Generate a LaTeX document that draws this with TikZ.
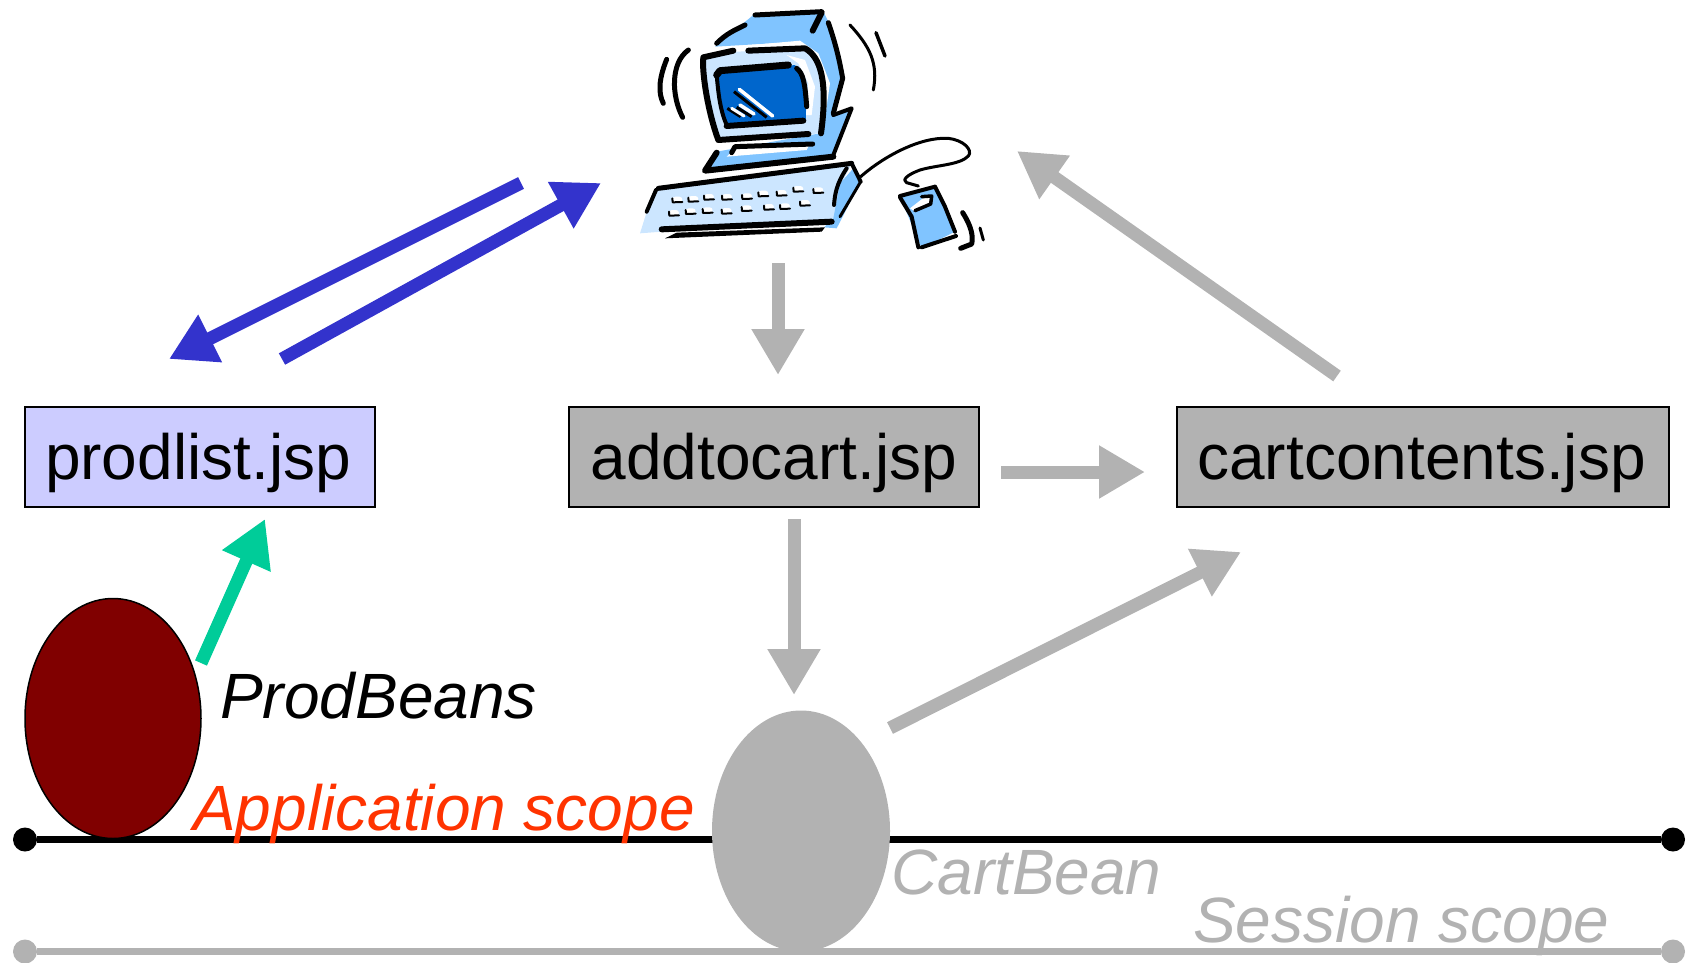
\documentclass[tikz,border=0pt]{standalone}
\usepackage{fontspec}
\setmainfont{Liberation Sans}
\usetikzlibrary{arrows.meta,shapes.geometric}
\definecolor{cgray}{HTML}{B2B2B2}
\definecolor{cblue}{HTML}{3333CC}
\definecolor{cgreen}{HTML}{00CC99}
\definecolor{clilac}{HTML}{CCCCFF}
\definecolor{cmaroon}{HTML}{800000}
\definecolor{cred}{HTML}{FF3300}
\definecolor{artmid}{HTML}{80C4FF}
\definecolor{artlight}{HTML}{CCE6FF}
\definecolor{artdark}{HTML}{0066CC}
\tikzset{
 filebox/.style={draw=black,line width=2pt,minimum height=100pt,inner sep=0pt,text height=47pt,text depth=3pt,font=\fontsize{64}{64}\selectfont},
 arrowline/.style={line width=13pt,-{Triangle[length=46pt,width=50pt]}},
 scopeline/.style={line width=6.5pt},
 enddot/.style={circle,minimum size=24pt,inner sep=0pt},
 bean/.style={ellipse,inner sep=0pt},
 caption/.style={anchor=base west,inner sep=0pt,font=\fontsize{64}{64}\selectfont\itshape},
 ink/.style={draw=black,line cap=round,line join=round,fill=none},
}
\begin{document}
\begin{tikzpicture}[x=1pt,y=-1pt]
\useasboundingbox (0,0) rectangle (1689,962);
% scope lines
\node[enddot,fill=cgray] (sl) at (25,951.5) {};
\node[enddot,fill=cgray] (sr) at (1673,951.5) {};
\draw[scopeline,cgray] (sl) -- (sr);
\node[enddot,fill=black] (al) at (25,839.5) {};
\node[enddot,fill=black] (ar) at (1673,839.5) {};
\draw[scopeline,black] (al) -- (ar);
% beans
\node[bean,fill=cmaroon,draw=black,line width=1.5pt,minimum width=176pt,minimum height=240pt] (prod) at (113,718.5) {};
\node[bean,fill=cgray,minimum width=178pt,minimum height=241pt] (cart) at (801,831) {};
% boxes
\node[filebox,fill=clilac,minimum width=350pt] (plist) at (200,457) {prodlist.jsp\hspace*{4pt}};
\node[filebox,fill=cgray,minimum width=410pt] (add) at (774,457) {addtocart.jsp};
\node[filebox,fill=cgray,minimum width=492pt] (cc) at (1423,457) {cartcontents.jsp\hspace*{3pt}};
% captions
\node[caption] (pb) at (220,718) {ProdBeans};
\node[caption,text=cred] (as) at (193,830) {Application scope};
\node[caption,text=cgray] (cb) at (891,894) {CartBean};
\node[caption,text=cgray] (ss) at (1193,942) {Session scope};
% arrow ends
\coordinate (b1s) at (521,183); \coordinate (b1e) at (169,359);
\coordinate (b2s) at (282,359); \coordinate (b2e) at (601,183);
\coordinate (g1s) at (778,263); \coordinate (g1e) at (778,375);
\coordinate (g2s) at (1001,472); \coordinate (g2e) at (1145,472);
\coordinate (g3s) at (1337,376); \coordinate (g3e) at (1017,151);
\coordinate (g4s) at (794,519); \coordinate (g4e) at (794,695);
\coordinate (g5s) at (890,728); \coordinate (g5e) at (1241,552);
\coordinate (gns) at (201,663); \coordinate (gne) at (265,519);
\draw[arrowline,cblue] (b1s) -- (b1e);
\draw[arrowline,cblue] (b2s) -- (b2e);
\draw[arrowline,cgray] (g1s) -- (g1e);
\draw[arrowline,cgray] (g2s) -- (g2e);
\draw[arrowline,cgray] (g3s) -- (g3e);
\draw[arrowline,cgray] (g4s) -- (g4e);
\draw[arrowline,cgray] (g5s) -- (g5e);
\draw[arrowline,cgreen] (gns) -- (gne);
% computer clip art (coordinates of a 3x crop)
\begin{scope}[shift={(620,0)},x=0.33333pt,y=-0.33333pt]
 % monitor body and base
 \fill[artmid] (285,140) -- (400,45) -- (610,35) -- (625,65) -- (670,230) -- (640,345) -- (695,330) -- (640,470) -- (260,510) -- (290,455) -- (600,400) -- (620,250) -- (590,160) -- (540,125) -- cycle;
 \fill[white] (320,470) -- (350,440) -- (570,430) -- (560,450) -- cycle;
 \fill[white] (285,145) -- (540,122) -- (595,160) -- (630,250) -- (608,400) -- (590,170) -- cycle;
 % bezel
 \fill[artlight] (250,175) -- (340,155) -- (560,150) -- (600,190) -- (615,260) -- (600,400) -- (300,425) -- (275,380) -- (250,230) -- cycle;
 \fill[white] (500,165) -- (555,180) -- (585,260) -- (575,345) -- (558,345) -- (565,250) -- (535,190) -- cycle;
 % screen
 \fill[artdark] (290,222) -- (525,195) -- (555,240) -- (558,358) -- (330,380) -- (305,345) -- cycle;
 \draw[black,line width=3pt] (342,275) -- (440,352);
 \draw[black,line width=3pt] (350,322) -- (395,350);
 \draw[black,line width=3pt] (322,325) -- (362,350);
 \draw[white,line width=3.5pt,line cap=round] (358,268) -- (458,348);
 \draw[white,line width=3.5pt,line cap=round] (360,315) -- (402,342);
 \draw[white,line width=3pt,line cap=round] (335,325) -- (372,348);
 % monitor outlines
 \draw[ink,line width=7pt] (290,225) -- (300,212) -- (505,195);
 \draw[ink,line width=5pt] (530,205) .. controls (550,220) and (555,250) .. (560,320);
 \draw[ink,line width=4pt] (290,225) .. controls (295,280) and (300,330) .. (320,375);
 \draw[ink,line width=6pt] (320,378) -- (550,362);
 \draw[ink,line width=6pt] (340,152) -- (250,172) .. controls (245,220) and (265,340) .. (295,420) -- (565,402);
 \draw[ink,line width=6pt] (385,152) -- (555,145) .. controls (600,170) and (625,240) .. (603,400);
 \draw[ink,line width=5pt] (290,130) .. controls (320,100) and (345,90) .. (375,75);
 \draw[ink,line width=5pt] (405,45) -- (605,35);
 \draw[ink,line width=6pt] (605,38) -- (578,92);
 \draw[ink,line width=5pt] (625,68) .. controls (650,140) and (660,190) .. (668,235) -- (640,340);
 \draw[ink,line width=4pt] (640,345) -- (695,325) -- (640,465);
 \draw[ink,line width=6pt] (640,470) -- (255,512) -- (290,458);
 \draw[ink,line width=5pt] (335,458) -- (345,440) -- (578,432);
 % motion marks
 \draw[ink,line width=5pt] (140,178) .. controls (115,240) and (115,280) .. (130,310);
 \draw[ink,line width=5pt] (205,150) .. controls (150,190) and (155,290) .. (188,352);
 \draw[ink,line width=3pt] (690,75) .. controls (750,140) and (775,190) .. (760,270);
 \draw[ink,line width=3.5pt] (768,98) -- (795,168);
 % keyboard
 \fill[artlight] (115,565) -- (695,490) -- (660,560) -- (640,670) -- (125,695) -- (60,700) -- (85,620) -- cycle;
 \fill[artmid] (700,505) -- (722,545) -- (650,685) -- (612,682) -- (640,655) -- (660,550) -- cycle;
 \draw[ink,line width=5pt] (115,565) -- (695,490);
 \draw[ink,line width=4pt] (108,570) -- (80,635);
 \draw[ink,line width=6pt] (125,688) -- (635,665);
 \fill[black] (135,715) -- (170,698) -- (615,682) -- (605,695) -- cycle;
 \draw[ink,line width=4pt] (695,490) -- (722,545);
 \draw[ink,line width=4pt] (680,505) .. controls (650,550) and (645,580) .. (642,615);
 \draw[ink,line width=3pt] (722,545) -- (660,650);
 % keys
 \foreach \kx/\ky in {157/590,205/588,252/582,306/582,366/580,415/572,470/570,520/558,580/562,147/630,197/625,248/622,305/624,365/616,432/612,480/610,540/600}{
  \fill[white,rounded corners=3pt] (\kx,\ky) rectangle ++(30,17);
  \draw[ink,line width=2pt] (\kx,\ky+5) -- (\kx+1,\ky+17) -- (\kx+30,\ky+16);
 }
 % cable
 \draw[ink,line width=3pt] (722,530) .. controls (790,470) and (900,410) .. (985,415) .. controls (1030,420) and (1060,450) .. (1045,468) .. controls (1020,495) and (950,495) .. (900,510) .. controls (860,525) and (845,540) .. (860,548) -- (895,558);
 % mouse
 \fill[artmid] (840,590) -- (945,560) -- (1005,695) -- (905,745) -- cycle;
 \draw[ink,line width=4pt] (840,588) -- (945,560);
 \draw[ink,line width=4pt] (840,592) -- (875,650) -- (895,742);
 \draw[ink,line width=4pt] (945,560) -- (975,620) -- (1005,695);
 \draw[ink,line width=4pt] (905,742) -- (1008,708);
 \fill[white] (870,625) -- (915,590) -- (938,590) -- (930,615) -- (885,635) -- cycle;
 \draw[ink,line width=3.5pt] (905,590) -- (935,588) -- (932,612) -- (885,632);
 \draw[ink,line width=5pt] (1028,638) .. controls (1055,680) and (1060,710) .. (1055,732) -- (1022,745);
 \draw[ink,line width=3pt] (1080,684) -- (1090,720);
\end{scope}
\end{tikzpicture}
\end{document}
